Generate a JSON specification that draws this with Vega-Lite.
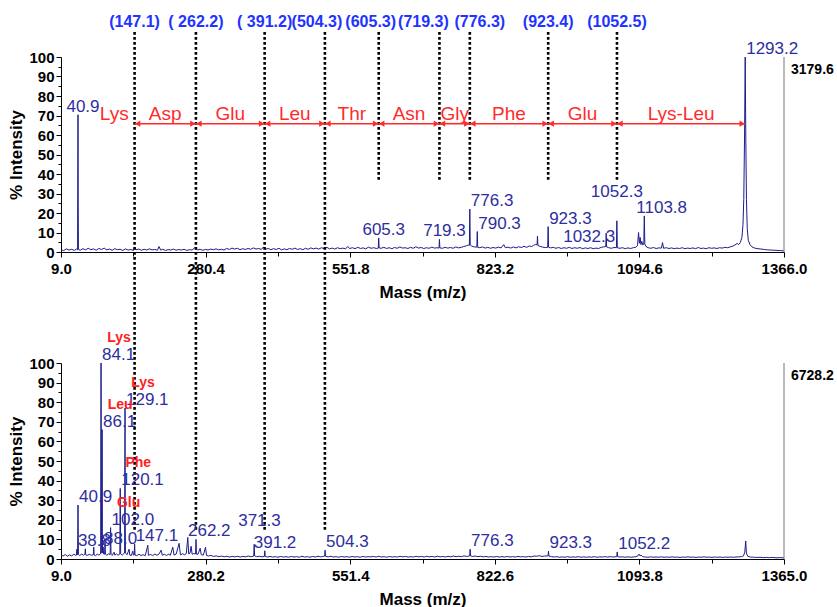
{
  "$schema": "https://vega.github.io/schema/vega-lite/v6.json",
  "background": "white",
  "padding": {"left": 7, "top": 13, "right": 0, "bottom": 0},
  "bounds": "flush",
  "spacing": 111,
  "config": {
    "view": {"stroke": null},
    "font": "Liberation Sans",
    "axis": {
      "grid": false,
      "domainColor": "black",
      "tickColor": "black",
      "labelColor": "black",
      "labelFont": "Liberation Sans",
      "labelFontWeight": "bold",
      "labelFontSize": 15,
      "labelOverlap": false,
      "labelFlush": false,
      "titleFont": "Liberation Sans",
      "titleFontWeight": "bold",
      "titleFontSize": 17,
      "titleColor": "black"
    }
  },
  "datasets": {
    "top": [
      {"mz":9,"i":1.2},{"mz":14,"i":0.7},{"mz":19,"i":1.6},{"mz":24,"i":1.0},{"mz":29,"i":1.4},{"mz":34,"i":0.8},{"mz":38,"i":1.5},
      {"mz":40.1,"i":1.1},{"mz":40.9,"i":70.4},{"mz":41.3,"i":25},{"mz":41.7,"i":1.3},
      {"mz":45,"i":0.9},{"mz":50,"i":1.7},{"mz":55,"i":1.1},{"mz":60,"i":1.9},{"mz":65,"i":1.2},{"mz":70,"i":1.6},{"mz":75,"i":0.9},{"mz":80,"i":1.8},{"mz":85,"i":1.3},{"mz":90,"i":2.0},{"mz":95,"i":1.1},{"mz":100,"i":1.5},{"mz":105,"i":0.9},{"mz":110,"i":1.7},{"mz":115,"i":1.2},{"mz":120,"i":1.4},{"mz":125,"i":0.8},{"mz":130,"i":1.6},{"mz":135,"i":1.0},{"mz":140,"i":1.3},{"mz":145,"i":0.8},{"mz":147.1,"i":2.6},{"mz":150,"i":1.1},{"mz":155,"i":1.5},{"mz":160,"i":0.9},{"mz":165,"i":1.4},{"mz":170,"i":1.0},{"mz":175,"i":1.6},{"mz":180,"i":1.1},{"mz":185,"i":1.3},{"mz":190,"i":0.9},{"mz":193,"i":2.8},{"mz":196,"i":1.0},{"mz":200,"i":1.4},{"mz":205,"i":0.8},{"mz":210,"i":1.2},{"mz":215,"i":1.0},{"mz":220,"i":1.5},{"mz":225,"i":0.9},{"mz":230,"i":1.3},{"mz":235,"i":1.0},{"mz":240,"i":1.4},{"mz":245,"i":0.8},{"mz":250,"i":1.2},{"mz":255,"i":1.0},{"mz":260,"i":2.2},{"mz":265,"i":1.1},{"mz":270,"i":1.4},{"mz":275,"i":0.9},{"mz":280,"i":1.3},{"mz":285,"i":1.0},{"mz":290,"i":1.5},{"mz":295,"i":1.2},{"mz":300,"i":1.6},{"mz":305,"i":1.1},{"mz":310,"i":1.4},{"mz":315,"i":1.0},{"mz":320,"i":1.8},{"mz":325,"i":1.3},{"mz":330,"i":2.0},{"mz":335,"i":1.5},{"mz":340,"i":1.9},{"mz":345,"i":1.2},{"mz":350,"i":1.7},{"mz":355,"i":1.3},{"mz":360,"i":1.8},{"mz":365,"i":1.4},{"mz":370,"i":2.1},{"mz":375,"i":1.5},{"mz":380,"i":1.8},{"mz":385,"i":1.3},{"mz":389,"i":2.6},{"mz":393,"i":1.4},{"mz":398,"i":1.8},{"mz":403,"i":1.2},{"mz":408,"i":1.7},{"mz":413,"i":1.3},{"mz":418,"i":1.9},{"mz":423,"i":1.1},{"mz":428,"i":1.6},{"mz":433,"i":1.2},{"mz":438,"i":1.8},{"mz":443,"i":1.4},{"mz":448,"i":2.0},{"mz":453,"i":1.3},{"mz":458,"i":1.7},{"mz":463,"i":1.2},{"mz":468,"i":1.9},{"mz":473,"i":1.4},{"mz":478,"i":2.1},{"mz":483,"i":1.6},{"mz":488,"i":2.0},{"mz":493,"i":1.5},{"mz":498,"i":2.2},{"mz":503,"i":1.7},{"mz":508,"i":2.4},{"mz":513,"i":1.6},{"mz":518,"i":2.0},{"mz":523,"i":1.5},{"mz":528,"i":2.2},{"mz":533,"i":1.7},{"mz":538,"i":2.0},{"mz":543,"i":1.6},{"mz":547,"i":2.8},{"mz":551,"i":1.8},{"mz":556,"i":2.2},{"mz":561,"i":1.7},{"mz":566,"i":2.4},{"mz":571,"i":1.8},{"mz":576,"i":2.1},{"mz":581,"i":1.6},{"mz":586,"i":2.5},{"mz":591,"i":1.9},{"mz":596,"i":2.2},{"mz":601,"i":1.8},
      {"mz":604.5,"i":2.0},{"mz":605.3,"i":7.2},{"mz":606.1,"i":2.1},
      {"mz":610,"i":1.9},{"mz":615,"i":2.4},{"mz":620,"i":1.8},{"mz":625,"i":2.2},{"mz":630,"i":1.7},{"mz":635,"i":2.3},{"mz":640,"i":1.9},{"mz":645,"i":2.6},{"mz":650,"i":2.0},{"mz":655,"i":2.2},{"mz":660,"i":1.8},{"mz":665,"i":2.4},{"mz":670,"i":1.9},{"mz":675,"i":2.7},{"mz":680,"i":2.0},{"mz":685,"i":2.3},{"mz":690,"i":1.8},{"mz":695,"i":2.2},{"mz":700,"i":1.9},{"mz":705,"i":2.5},{"mz":710,"i":2.0},{"mz":715,"i":2.2},
      {"mz":718.5,"i":2.0},{"mz":719.3,"i":6.5},{"mz":720.1,"i":2.1},
      {"mz":725,"i":1.9},{"mz":730,"i":2.4},{"mz":735,"i":2.0},{"mz":740,"i":2.3},{"mz":745,"i":1.9},{"mz":750,"i":2.6},{"mz":755,"i":2.1},{"mz":760,"i":2.4},{"mz":765,"i":2.8},{"mz":770,"i":3.2},{"mz":774,"i":3.6},
      {"mz":775.5,"i":3.4},{"mz":776.3,"i":22},{"mz":777.1,"i":3.6},
      {"mz":780,"i":3.0},{"mz":785,"i":2.6},
      {"mz":789.5,"i":2.5},{"mz":790.3,"i":10.5},{"mz":791.1,"i":2.4},
      {"mz":795,"i":2.2},{"mz":800,"i":2.6},{"mz":805,"i":2.0},{"mz":810,"i":2.4},{"mz":815,"i":1.9},{"mz":820,"i":2.3},{"mz":825,"i":2.0},{"mz":830,"i":2.5},{"mz":835,"i":2.1},{"mz":840,"i":3.8},{"mz":843,"i":2.2},{"mz":848,"i":2.5},{"mz":853,"i":2.0},{"mz":858,"i":2.6},{"mz":863,"i":2.1},{"mz":868,"i":2.7},{"mz":873,"i":2.3},{"mz":878,"i":2.9},{"mz":883,"i":2.4},{"mz":888,"i":3.1},{"mz":892,"i":2.8},{"mz":896,"i":3.4},{"mz":900,"i":3.9},
      {"mz":902.5,"i":3.6},{"mz":903.3,"i":8.2},{"mz":904.1,"i":3.4},
      {"mz":908,"i":2.9},{"mz":913,"i":2.5},{"mz":918,"i":2.3},
      {"mz":922.5,"i":2.4},{"mz":923.3,"i":13},{"mz":924.1,"i":2.5},
      {"mz":928,"i":2.1},{"mz":933,"i":2.4},{"mz":938,"i":1.9},{"mz":943,"i":2.3},{"mz":948,"i":1.8},{"mz":953,"i":2.2},{"mz":958,"i":1.9},{"mz":963,"i":2.4},{"mz":968,"i":1.8},{"mz":973,"i":2.2},{"mz":978,"i":1.9},{"mz":983,"i":2.3},{"mz":988,"i":1.7},{"mz":993,"i":2.1},{"mz":998,"i":1.8},{"mz":1003,"i":2.2},{"mz":1008,"i":1.7},{"mz":1013,"i":2.0},{"mz":1018,"i":1.8},{"mz":1023,"i":2.4},{"mz":1027,"i":2.6},
      {"mz":1031.5,"i":2.8},{"mz":1032.3,"i":9.7},{"mz":1033.1,"i":2.6},
      {"mz":1037,"i":2.2},{"mz":1042,"i":1.9},{"mz":1047,"i":2.3},
      {"mz":1051.5,"i":2.2},{"mz":1052.3,"i":16},{"mz":1053.1,"i":2.2},
      {"mz":1058,"i":1.9},{"mz":1063,"i":2.2},{"mz":1068,"i":1.7},{"mz":1073,"i":2.1},{"mz":1078,"i":1.8},{"mz":1083,"i":2.2},{"mz":1088,"i":2.5},{"mz":1091,"i":3.2},{"mz":1093,"i":10},{"mz":1094.5,"i":4.5},{"mz":1096,"i":7.5},{"mz":1097.5,"i":3.8},{"mz":1099,"i":5.5},{"mz":1101,"i":3.6},
      {"mz":1102.8,"i":4.0},{"mz":1103.8,"i":18.5},{"mz":1104.8,"i":4.0},
      {"mz":1107,"i":2.8},{"mz":1111,"i":2.2},{"mz":1116,"i":1.9},{"mz":1121,"i":2.3},{"mz":1126,"i":1.8},{"mz":1131,"i":2.1},{"mz":1136,"i":2.0},{"mz":1138,"i":4.8},{"mz":1140,"i":1.9},{"mz":1145,"i":2.2},{"mz":1150,"i":1.8},{"mz":1155,"i":2.1},{"mz":1160,"i":1.7},{"mz":1165,"i":2.0},{"mz":1170,"i":1.8},{"mz":1175,"i":2.2},{"mz":1180,"i":1.7},{"mz":1185,"i":2.0},{"mz":1190,"i":1.8},{"mz":1195,"i":2.1},{"mz":1200,"i":1.7},{"mz":1205,"i":2.3},{"mz":1210,"i":1.8},{"mz":1215,"i":2.0},{"mz":1220,"i":1.7},{"mz":1225,"i":2.2},{"mz":1230,"i":1.9},{"mz":1235,"i":2.1},{"mz":1240,"i":1.8},{"mz":1245,"i":2.2},{"mz":1250,"i":2.0},{"mz":1255,"i":2.4},{"mz":1260,"i":2.2},{"mz":1265,"i":2.6},{"mz":1270,"i":3.0},{"mz":1274,"i":3.6},{"mz":1278,"i":4.4},{"mz":1281,"i":3.8},{"mz":1284,"i":4.8},{"mz":1287,"i":7.5},{"mz":1289,"i":14},{"mz":1290.5,"i":27},{"mz":1292,"i":60},
      {"mz":1293.2,"i":100},
      {"mz":1294.2,"i":62},{"mz":1295.5,"i":27},{"mz":1297,"i":12},{"mz":1299,"i":6},{"mz":1302,"i":3.8},{"mz":1306,"i":2.6},{"mz":1311,"i":2.0},{"mz":1317,"i":1.7},{"mz":1323,"i":1.5},{"mz":1329,"i":1.3},{"mz":1335,"i":1.1},{"mz":1341,"i":1.0},{"mz":1347,"i":0.9},{"mz":1353,"i":0.8},{"mz":1359,"i":0.7},{"mz":1366,"i":0.6}
    ],
    "bottom": [
      {"mz":9,"i":2.0},{"mz":13,"i":1.5},{"mz":17,"i":2.3},{"mz":21,"i":1.4},{"mz":25,"i":2.1},{"mz":29,"i":1.6},{"mz":33,"i":2.4},{"mz":37,"i":1.8},
      {"mz":38.0,"i":2.0},{"mz":38.8,"i":5.0},{"mz":39.6,"i":2.2},
      {"mz":40.1,"i":2.4},{"mz":40.9,"i":27.5},{"mz":41.7,"i":2.3},
      {"mz":44,"i":1.8},{"mz":48,"i":2.5},{"mz":51,"i":1.9},{"mz":54,"i":2.6},{"mz":54.6,"i":5.2},{"mz":55.4,"i":2.1},{"mz":58,"i":1.8},{"mz":62,"i":2.4},{"mz":66,"i":1.9},{"mz":69.6,"i":2.2},{"mz":70.4,"i":6.0},{"mz":71.2,"i":2.0},{"mz":74,"i":1.7},{"mz":77,"i":2.5},{"mz":80,"i":2.0},
      {"mz":83.3,"i":2.6},{"mz":84.1,"i":100,"res":"Lys"},{"mz":84.7,"i":30},{"mz":85.3,"i":12},{"mz":85.6,"i":3.0},
      {"mz":86.1,"i":66,"res":"Leu"},{"mz":86.5,"i":14},{"mz":87.0,"i":3.2},
      {"mz":88.0,"i":6.2},{"mz":88.8,"i":2.6},{"mz":90.8,"i":2.4},{"mz":91.6,"i":10},{"mz":92.4,"i":2.5},{"mz":95,"i":1.9},{"mz":98,"i":2.6},
      {"mz":101.2,"i":2.3},{"mz":102.0,"i":16,"res":"Glu"},{"mz":102.8,"i":2.4},
      {"mz":105,"i":1.8},{"mz":108.5,"i":3.5},{"mz":110,"i":2.0},{"mz":113,"i":2.6},{"mz":116,"i":1.9},
      {"mz":119.3,"i":2.5},{"mz":120.1,"i":36,"res":"Phe"},{"mz":120.9,"i":2.6},
      {"mz":124,"i":2.0},{"mz":127,"i":2.8},
      {"mz":128.3,"i":3.0},{"mz":129.1,"i":77,"res":"Lys"},{"mz":129.5,"i":20},{"mz":129.9,"i":3.0},
      {"mz":133,"i":2.2},{"mz":136.7,"i":5.0},{"mz":138,"i":2.0},{"mz":141,"i":1.8},{"mz":143.6,"i":4.0},{"mz":145,"i":2.0},
      {"mz":146.3,"i":2.1},{"mz":147.1,"i":7.6},{"mz":147.9,"i":2.0},
      {"mz":151,"i":1.7},{"mz":155,"i":2.4},{"mz":159,"i":1.8},{"mz":163,"i":2.2},{"mz":167,"i":1.7},{"mz":171.8,"i":7.0},{"mz":173,"i":1.9},{"mz":177,"i":2.3},{"mz":181,"i":1.8},{"mz":185,"i":2.5},{"mz":189,"i":1.9},{"mz":193,"i":2.6},{"mz":196.8,"i":4.5},{"mz":199,"i":1.9},{"mz":203,"i":2.4},{"mz":207,"i":1.8},{"mz":211,"i":2.5},{"mz":214,"i":1.9},{"mz":218.7,"i":6.0},{"mz":221,"i":2.0},{"mz":225,"i":2.5},{"mz":230.5,"i":8.0},{"mz":233,"i":2.1},{"mz":237,"i":2.7},{"mz":241,"i":2.2},{"mz":244,"i":2.8},{"mz":246.8,"i":11},{"mz":248.5,"i":2.6},{"mz":251,"i":3.0},{"mz":253,"i":6.5},{"mz":255,"i":2.4},{"mz":258,"i":2.8},
      {"mz":261.4,"i":2.6},{"mz":262.2,"i":10},{"mz":263,"i":2.5},
      {"mz":266,"i":2.4},{"mz":270,"i":5.5},{"mz":272,"i":2.2},{"mz":276,"i":2.0},{"mz":280,"i":6.0},{"mz":282,"i":1.8},{"mz":286,"i":1.5},{"mz":290,"i":1.9},{"mz":295,"i":1.3},{"mz":300,"i":1.6},{"mz":305,"i":1.2},{"mz":310,"i":1.5},{"mz":315,"i":1.1},{"mz":320,"i":1.4},{"mz":325,"i":1.0},{"mz":330,"i":1.3},{"mz":335,"i":1.1},{"mz":340,"i":1.4},{"mz":345,"i":1.0},{"mz":350,"i":1.3},{"mz":355,"i":1.1},{"mz":360,"i":1.5},{"mz":365,"i":1.2},
      {"mz":370.5,"i":1.5},{"mz":371.3,"i":7.5},{"mz":372.1,"i":1.6},
      {"mz":376,"i":1.2},{"mz":381,"i":1.4},{"mz":386,"i":1.1},
      {"mz":390.4,"i":1.3},{"mz":391.2,"i":4.2},{"mz":392,"i":1.3},
      {"mz":396,"i":1.0},{"mz":401,"i":1.3},{"mz":406,"i":1.0},{"mz":411,"i":1.2},{"mz":416,"i":0.9},{"mz":421,"i":1.3},{"mz":426,"i":1.0},{"mz":431,"i":1.2},{"mz":436,"i":0.9},{"mz":441,"i":1.3},{"mz":446,"i":1.0},{"mz":451,"i":1.2},{"mz":456,"i":0.9},{"mz":461,"i":1.4},{"mz":466,"i":1.0},{"mz":471,"i":1.2},{"mz":476,"i":0.9},{"mz":481,"i":1.3},{"mz":486,"i":1.0},{"mz":491,"i":1.4},{"mz":496,"i":1.1},{"mz":500,"i":1.3},
      {"mz":503.5,"i":1.5},{"mz":504.3,"i":4.5},{"mz":505.1,"i":1.4},
      {"mz":510,"i":1.1},{"mz":515,"i":1.4},{"mz":520,"i":1.0},{"mz":525,"i":1.2},{"mz":530,"i":0.9},{"mz":535,"i":1.3},{"mz":540,"i":1.0},{"mz":545,"i":1.2},{"mz":550,"i":0.9},{"mz":555,"i":1.3},{"mz":560,"i":1.0},{"mz":565,"i":1.2},{"mz":570,"i":0.9},{"mz":575,"i":1.3},{"mz":580,"i":1.0},{"mz":585,"i":1.2},{"mz":590,"i":1.1},{"mz":595,"i":1.3},{"mz":600,"i":1.0},{"mz":605,"i":1.4},{"mz":610,"i":1.0},{"mz":615,"i":1.2},{"mz":620,"i":0.9},{"mz":625,"i":1.3},{"mz":630,"i":1.0},{"mz":635,"i":1.2},{"mz":640,"i":1.0},{"mz":645,"i":1.4},{"mz":650,"i":1.1},{"mz":655,"i":1.3},{"mz":660,"i":1.0},{"mz":665,"i":1.2},{"mz":670,"i":1.0},{"mz":675,"i":1.4},{"mz":680,"i":1.1},{"mz":685,"i":1.3},{"mz":690,"i":1.0},{"mz":695,"i":1.4},{"mz":700,"i":1.1},{"mz":705,"i":1.3},{"mz":710,"i":1.0},{"mz":715,"i":1.4},{"mz":720,"i":1.1},{"mz":725,"i":1.3},{"mz":730,"i":1.0},{"mz":735,"i":1.4},{"mz":740,"i":1.1},{"mz":745,"i":1.5},{"mz":750,"i":1.2},{"mz":755,"i":1.4},{"mz":760,"i":1.2},{"mz":765,"i":1.6},{"mz":770,"i":1.3},
      {"mz":775.5,"i":1.6},{"mz":776.3,"i":5.0},{"mz":777.1,"i":1.6},
      {"mz":781,"i":1.3},{"mz":786,"i":1.5},{"mz":791,"i":1.2},{"mz":796,"i":1.4},{"mz":801,"i":1.1},{"mz":806,"i":1.3},{"mz":811,"i":1.0},{"mz":816,"i":1.2},{"mz":821,"i":1.0},{"mz":826,"i":1.3},{"mz":831,"i":1.0},{"mz":836,"i":1.2},{"mz":841,"i":1.0},{"mz":846,"i":1.3},{"mz":851,"i":1.0},{"mz":856,"i":1.2},{"mz":861,"i":1.0},{"mz":866,"i":1.3},{"mz":871,"i":1.1},{"mz":876,"i":1.2},{"mz":881,"i":1.0},{"mz":886,"i":1.3},{"mz":891,"i":1.1},{"mz":896,"i":1.5},{"mz":901,"i":1.4},{"mz":906,"i":1.7},{"mz":911,"i":1.3},{"mz":916,"i":1.5},
      {"mz":922.5,"i":1.6},{"mz":923.3,"i":4.0},{"mz":924.1,"i":1.5},
      {"mz":929,"i":1.2},{"mz":934,"i":1.0},{"mz":939,"i":1.2},{"mz":944,"i":0.9},{"mz":949,"i":1.1},{"mz":954,"i":0.9},{"mz":959,"i":1.2},{"mz":964,"i":0.9},{"mz":969,"i":1.1},{"mz":974,"i":0.9},{"mz":979,"i":1.2},{"mz":984,"i":0.9},{"mz":989,"i":1.1},{"mz":994,"i":0.9},{"mz":999,"i":1.1},{"mz":1004,"i":0.9},{"mz":1009,"i":1.2},{"mz":1014,"i":0.9},{"mz":1019,"i":1.1},{"mz":1024,"i":1.0},{"mz":1029,"i":1.2},{"mz":1034,"i":1.0},{"mz":1039,"i":1.2},{"mz":1044,"i":1.0},{"mz":1048,"i":1.1},
      {"mz":1051.4,"i":1.2},{"mz":1052.2,"i":3.6},{"mz":1053,"i":1.2},
      {"mz":1057,"i":1.0},{"mz":1062,"i":1.1},{"mz":1067,"i":0.9},{"mz":1072,"i":1.1},{"mz":1077,"i":0.9},{"mz":1082,"i":1.0},{"mz":1087,"i":1.2},{"mz":1091,"i":1.6},{"mz":1093,"i":2.5},{"mz":1095,"i":1.6},{"mz":1097,"i":2.0},{"mz":1100,"i":1.2},{"mz":1105,"i":1.0},{"mz":1110,"i":0.9},{"mz":1115,"i":1.1},{"mz":1120,"i":0.9},{"mz":1125,"i":1.0},{"mz":1130,"i":0.9},{"mz":1135,"i":1.1},{"mz":1140,"i":0.9},{"mz":1145,"i":1.0},{"mz":1150,"i":0.9},{"mz":1155,"i":1.1},{"mz":1160,"i":0.9},{"mz":1165,"i":1.0},{"mz":1170,"i":0.8},{"mz":1175,"i":1.0},{"mz":1180,"i":0.9},{"mz":1185,"i":1.1},{"mz":1190,"i":0.9},{"mz":1195,"i":1.0},{"mz":1200,"i":0.8},{"mz":1205,"i":1.0},{"mz":1210,"i":0.9},{"mz":1215,"i":1.1},{"mz":1220,"i":0.9},{"mz":1225,"i":1.0},{"mz":1230,"i":0.8},{"mz":1235,"i":1.0},{"mz":1240,"i":0.9},{"mz":1245,"i":1.0},{"mz":1250,"i":0.8},{"mz":1255,"i":1.0},{"mz":1260,"i":0.9},{"mz":1265,"i":1.0},{"mz":1270,"i":0.9},{"mz":1275,"i":1.0},{"mz":1280,"i":1.1},{"mz":1285,"i":1.2},{"mz":1289,"i":1.6},{"mz":1291.5,"i":3.5},{"mz":1293.2,"i":9.2},{"mz":1294.5,"i":3.0},{"mz":1297,"i":1.4},{"mz":1302,"i":1.0},{"mz":1308,"i":0.9},{"mz":1314,"i":0.8},{"mz":1320,"i":0.9},{"mz":1326,"i":0.7},{"mz":1332,"i":0.8},{"mz":1338,"i":0.7},{"mz":1344,"i":0.8},{"mz":1350,"i":0.6},{"mz":1356,"i":0.7},{"mz":1365,"i":0.6}
    ],
    "cuts": [
      {"mz":147.1,"label":"(147.1)"},
      {"mz":262.2,"label":"( 262.2)"},
      {"mz":391.2,"label":"( 391.2)"},
      {"mz":504.3,"label":"(504.3)"},
      {"mz":605.3,"label":"(605.3)"},
      {"mz":719.3,"label":"(719.3)"},
      {"mz":776.3,"label":"(776.3)"},
      {"mz":923.4,"label":"(923.4)"},
      {"mz":1052.5,"label":"(1052.5)"}
    ],
    "steps": [
      {"from":40.9,"to":147.1,"res":"Lys"},
      {"from":147.1,"to":262.2,"res":"Asp"},
      {"from":262.2,"to":391.2,"res":"Glu"},
      {"from":391.2,"to":504.3,"res":"Leu"},
      {"from":504.3,"to":605.3,"res":"Thr"},
      {"from":605.3,"to":719.3,"res":"Asn"},
      {"from":719.3,"to":776.3,"res":"Gly"},
      {"from":776.3,"to":923.4,"res":"Phe"},
      {"from":923.4,"to":1052.5,"res":"Glu"},
      {"from":1052.5,"to":1293.2,"res":"Lys-Leu"}
    ],
    "topCount": [{"mz":1366,"i":100,"count":"3179.6"}],
    "bottomCount": [{"mz":1365,"i":100,"count":"6728.2"}]
  },
  "vconcat": [
    {
      "width": 723,
      "height": 195,
      "resolve": {"axis": {"x": "independent", "y": "independent"}},
      "layer": [
        {
          "data": {"name": "top"},
          "mark": {"type": "line", "color": "#1c1c8c", "strokeWidth": 1, "clip": true},
          "encoding": {
            "x": {
              "field": "mz", "type": "quantitative",
              "scale": {"domain": [9, 1366], "nice": false, "zero": false},
              "axis": {
                "title": "Mass (m/z)",
                "values": [9, 144.7, 280.4, 416.1, 551.8, 687.5, 823.2, 958.9, 1094.6, 1230.3, 1366],
                "labelExpr": "indexof([9, 280.4, 551.8, 823.2, 1094.6, 1366], datum.value) >= 0 ? format(datum.value, '.1f') : ''",
                "tickSize": {"condition": {"test": "indexof([9, 280.4, 551.8, 823.2, 1094.6, 1366], datum.value) >= 0", "value": 5}, "value": 4},
                "labelOverlap": false,
                "labelDx": 4,
                "labelPadding": 4,
                "titlePadding": 8
              }
            },
            "y": {
              "field": "i", "type": "quantitative",
              "scale": {"domain": [0, 100], "nice": false},
              "axis": {
                "title": "% Intensity",
                "values": [0, 5, 10, 15, 20, 25, 30, 35, 40, 45, 50, 55, 60, 65, 70, 75, 80, 85, 90, 95, 100],
                "labelExpr": "datum.value % 10 === 0 ? format(datum.value, 'd') : ''",
                "tickSize": {"condition": {"test": "datum.value % 10 === 0", "value": 5}, "value": 3},
                "labelOverlap": false,
                "labelBaseline": "middle",
                "labelPadding": 2,
                "titlePadding": 3
              }
            }
          }
        },
        {
          "data": {"name": "topCount"},
          "mark": {"type": "rule", "color": "#8c8c8c", "strokeWidth": 1.2},
          "encoding": {
            "x": {"field": "mz", "type": "quantitative", "axis": null},
            "y": {"field": "i", "type": "quantitative", "axis": null},
            "y2": {"datum": 0}
          }
        },
        {
          "data": {"name": "cuts"},
          "transform": [{"filter": "datum.mz <= 504.3"}],
          "mark": {"type": "rule", "color": "black", "strokeWidth": 2.6, "strokeDash": [2.6, 2.4], "clip": false},
          "encoding": {
            "x": {"field": "mz", "type": "quantitative", "axis": null},
            "y": {"datum": 112.8, "type": "quantitative", "axis": null},
            "y2": {"datum": -142.6}
          }
        },
        {
          "data": {"name": "cuts"},
          "transform": [{"filter": "datum.mz > 504.3"}],
          "mark": {"type": "rule", "color": "black", "strokeWidth": 2.6, "strokeDash": [2.6, 2.4], "clip": false},
          "encoding": {
            "x": {"field": "mz", "type": "quantitative", "axis": null},
            "y": {"datum": 112.8, "type": "quantitative", "axis": null},
            "y2": {"datum": 36.4}
          }
        },
        {
          "data": {"name": "cuts"},
          "transform": [{"filter": {"field": "mz", "oneOf": [147.1, 262.2, 391.2, 923.4, 1052.5]}}],
          "mark": {"type": "text", "color": "#2233ff", "fontSize": 16, "fontWeight": "bold", "align": "center", "baseline": "alphabetic", "clip": false},
          "encoding": {
            "x": {"field": "mz", "type": "quantitative", "axis": null},
            "y": {"datum": 115.4, "type": "quantitative", "axis": null},
            "text": {"field": "label", "type": "nominal"}
          }
        },
        {
          "data": {"name": "cuts"},
          "transform": [{"filter": {"field": "mz", "oneOf": [504.3, 605.3]}}],
          "mark": {"type": "text", "color": "#2233ff", "fontSize": 16, "fontWeight": "bold", "align": "center", "baseline": "alphabetic", "dx": -8, "clip": false},
          "encoding": {
            "x": {"field": "mz", "type": "quantitative", "axis": null},
            "y": {"datum": 115.4, "type": "quantitative", "axis": null},
            "text": {"field": "label", "type": "nominal"}
          }
        },
        {
          "data": {"name": "cuts"},
          "transform": [{"filter": {"field": "mz", "oneOf": [719.3]}}],
          "mark": {"type": "text", "color": "#2233ff", "fontSize": 16, "fontWeight": "bold", "align": "center", "baseline": "alphabetic", "dx": -16, "clip": false},
          "encoding": {
            "x": {"field": "mz", "type": "quantitative", "axis": null},
            "y": {"datum": 115.4, "type": "quantitative", "axis": null},
            "text": {"field": "label", "type": "nominal"}
          }
        },
        {
          "data": {"name": "cuts"},
          "transform": [{"filter": {"field": "mz", "oneOf": [776.3]}}],
          "mark": {"type": "text", "color": "#2233ff", "fontSize": 16, "fontWeight": "bold", "align": "center", "baseline": "alphabetic", "dx": 10, "clip": false},
          "encoding": {
            "x": {"field": "mz", "type": "quantitative", "axis": null},
            "y": {"datum": 115.4, "type": "quantitative", "axis": null},
            "text": {"field": "label", "type": "nominal"}
          }
        },
        {
          "data": {"name": "steps"},
          "transform": [{"filter": "datum.from >= 147"}],
          "mark": {"type": "rule", "color": "#ff2b2b", "strokeWidth": 1.6},
          "encoding": {
            "x": {"field": "from", "type": "quantitative", "axis": null},
            "x2": {"field": "to"},
            "y": {"datum": 65.8, "type": "quantitative", "axis": null}
          }
        },
        {
          "data": {"name": "steps"},
          "transform": [{"filter": "datum.from >= 147"}],
          "mark": {"type": "point", "shape": "triangle-left", "filled": true, "color": "#ff2b2b", "opacity": 1, "size": 40, "xOffset": 3},
          "encoding": {
            "x": {"field": "from", "type": "quantitative", "axis": null},
            "y": {"datum": 65.8, "type": "quantitative", "axis": null}
          }
        },
        {
          "data": {"name": "steps"},
          "transform": [{"filter": "datum.from >= 147"}],
          "mark": {"type": "point", "shape": "triangle-right", "filled": true, "color": "#ff2b2b", "opacity": 1, "size": 40, "xOffset": -3},
          "encoding": {
            "x": {"field": "to", "type": "quantitative", "axis": null},
            "y": {"datum": 65.8, "type": "quantitative", "axis": null}
          }
        },
        {
          "data": {"name": "steps"},
          "transform": [{"filter": "datum.from >= 147"}, {"fold": ["from", "to"], "as": ["end", "pos"]}],
          "mark": {"type": "text", "color": "#ff2b2b", "fontSize": 19, "align": "center", "baseline": "alphabetic", "dy": -4},
          "encoding": {
            "x": {"aggregate": "mean", "field": "pos", "type": "quantitative", "axis": null},
            "y": {"datum": 65.8, "type": "quantitative", "axis": null},
            "text": {"field": "res", "type": "nominal"},
            "detail": {"field": "from", "type": "nominal"}
          }
        },
        {
          "data": {"name": "steps"},
          "transform": [{"filter": "datum.from < 147"}, {"fold": ["from", "to"], "as": ["end", "pos"]}],
          "mark": {"type": "text", "color": "#ff2b2b", "fontSize": 19, "align": "center", "baseline": "alphabetic", "dx": 8, "dy": -4},
          "encoding": {
            "x": {"aggregate": "mean", "field": "pos", "type": "quantitative", "axis": null},
            "y": {"datum": 65.8, "type": "quantitative", "axis": null},
            "text": {"field": "res", "type": "nominal"},
            "detail": {"field": "from", "type": "nominal"}
          }
        },
        {
          "data": {"name": "top"},
          "transform": [{"filter": {"field": "mz", "oneOf": [40.9, 605.3, 719.3]}}],
          "mark": {"type": "text", "color": "#2e2e9e", "fontSize": 17, "align": "center", "baseline": "alphabetic", "dx": 5, "dy": -3},
          "encoding": {
            "x": {"field": "mz", "type": "quantitative", "axis": null},
            "y": {"field": "i", "type": "quantitative", "axis": null},
            "text": {"field": "mz", "type": "quantitative", "format": ".1f"}
          }
        },
        {
          "data": {"name": "top"},
          "transform": [{"filter": {"field": "mz", "oneOf": [776.3, 790.3, 923.3, 1293.2]}}],
          "mark": {"type": "text", "color": "#2e2e9e", "fontSize": 17, "align": "left", "baseline": "alphabetic", "dx": 1, "dy": -3},
          "encoding": {
            "x": {"field": "mz", "type": "quantitative", "axis": null},
            "y": {"field": "i", "type": "quantitative", "axis": null},
            "text": {"field": "mz", "type": "quantitative", "format": ".1f"}
          }
        },
        {
          "data": {"name": "top"},
          "transform": [{"filter": {"field": "mz", "oneOf": [1103.8]}}],
          "mark": {"type": "text", "color": "#2e2e9e", "fontSize": 17, "align": "left", "baseline": "alphabetic", "dx": -8, "dy": -3},
          "encoding": {
            "x": {"field": "mz", "type": "quantitative", "axis": null},
            "y": {"field": "i", "type": "quantitative", "axis": null},
            "text": {"field": "mz", "type": "quantitative", "format": ".1f"}
          }
        },
        {
          "data": {"name": "top"},
          "transform": [{"filter": {"field": "mz", "oneOf": [1052.3]}}],
          "mark": {"type": "text", "color": "#2e2e9e", "fontSize": 17, "align": "center", "baseline": "alphabetic", "dx": 0, "dy": -24},
          "encoding": {
            "x": {"field": "mz", "type": "quantitative", "axis": null},
            "y": {"field": "i", "type": "quantitative", "axis": null},
            "text": {"field": "mz", "type": "quantitative", "format": ".1f"}
          }
        },
        {
          "data": {"name": "top"},
          "transform": [{"filter": {"field": "mz", "oneOf": [1032.3]}}],
          "mark": {"type": "text", "color": "#2e2e9e", "fontSize": 17, "align": "right", "baseline": "alphabetic", "dx": 9, "dy": 9},
          "encoding": {
            "x": {"field": "mz", "type": "quantitative", "axis": null},
            "y": {"field": "i", "type": "quantitative", "axis": null},
            "text": {"field": "mz", "type": "quantitative", "format": ".1f"}
          }
        },
        {
          "data": {"name": "topCount"},
          "mark": {"type": "text", "fontSize": 14, "fontWeight": "bold", "color": "black", "align": "left", "baseline": "alphabetic", "dx": 7, "dy": 17, "clip": false},
          "encoding": {
            "x": {"field": "mz", "type": "quantitative", "axis": null},
            "y": {"field": "i", "type": "quantitative", "axis": null},
            "text": {"field": "count", "type": "nominal"}
          }
        }
      ]
    },
    {
      "width": 723,
      "height": 196,
      "resolve": {"axis": {"x": "independent", "y": "independent"}},
      "layer": [
        {
          "data": {"name": "bottom"},
          "mark": {"type": "line", "color": "#1c1c8c", "strokeWidth": 1, "clip": true},
          "encoding": {
            "x": {
              "field": "mz", "type": "quantitative",
              "scale": {"domain": [9, 1365], "nice": false, "zero": false},
              "axis": {
                "title": "Mass (m/z)",
                "values": [9, 144.6, 280.2, 415.8, 551.4, 687, 822.6, 958.2, 1093.8, 1229.4, 1365],
                "labelExpr": "indexof([9, 280.2, 551.4, 822.6, 1093.8, 1365], datum.value) >= 0 ? format(datum.value, '.1f') : ''",
                "tickSize": {"condition": {"test": "indexof([9, 280.2, 551.4, 822.6, 1093.8, 1365], datum.value) >= 0", "value": 5}, "value": 4},
                "labelOverlap": false,
                "labelDx": 4,
                "labelPadding": 4,
                "titlePadding": 8
              }
            },
            "y": {
              "field": "i", "type": "quantitative",
              "scale": {"domain": [0, 100], "nice": false},
              "axis": {
                "title": "% Intensity",
                "values": [0, 5, 10, 15, 20, 25, 30, 35, 40, 45, 50, 55, 60, 65, 70, 75, 80, 85, 90, 95, 100],
                "labelExpr": "datum.value % 10 === 0 ? format(datum.value, 'd') : ''",
                "tickSize": {"condition": {"test": "datum.value % 10 === 0", "value": 5}, "value": 3},
                "labelOverlap": false,
                "labelBaseline": "middle",
                "labelPadding": 2,
                "titlePadding": 3
              }
            }
          }
        },
        {
          "data": {"name": "bottomCount"},
          "mark": {"type": "rule", "color": "#8c8c8c", "strokeWidth": 1.2},
          "encoding": {
            "x": {"field": "mz", "type": "quantitative", "axis": null},
            "y": {"field": "i", "type": "quantitative", "axis": null},
            "y2": {"datum": 0}
          }
        },
        {
          "data": {"name": "bottom"},
          "transform": [{"filter": {"field": "mz", "oneOf": [38.8, 40.9, 84.1, 86.1, 88.0, 102.0, 120.1, 129.1, 147.1, 504.3, 776.3, 923.3, 1052.2]}}],
          "mark": {"type": "text", "color": "#2e2e9e", "fontSize": 17, "align": "left", "baseline": "alphabetic", "dx": 1, "dy": -3},
          "encoding": {
            "x": {"field": "mz", "type": "quantitative", "axis": null},
            "y": {"field": "i", "type": "quantitative", "axis": null},
            "text": {"field": "mz", "type": "quantitative", "format": ".1f"}
          }
        },
        {
          "data": {"name": "bottom"},
          "transform": [{"filter": {"field": "mz", "oneOf": [262.2]}}],
          "mark": {"type": "text", "color": "#2e2e9e", "fontSize": 17, "align": "left", "baseline": "alphabetic", "dx": -8, "dy": -3},
          "encoding": {
            "x": {"field": "mz", "type": "quantitative", "axis": null},
            "y": {"field": "i", "type": "quantitative", "axis": null},
            "text": {"field": "mz", "type": "quantitative", "format": ".1f"}
          }
        },
        {
          "data": {"name": "bottom"},
          "transform": [{"filter": {"field": "mz", "oneOf": [371.3]}}],
          "mark": {"type": "text", "color": "#2e2e9e", "fontSize": 17, "align": "left", "baseline": "alphabetic", "dx": -16, "dy": -18},
          "encoding": {
            "x": {"field": "mz", "type": "quantitative", "axis": null},
            "y": {"field": "i", "type": "quantitative", "axis": null},
            "text": {"field": "mz", "type": "quantitative", "format": ".1f"}
          }
        },
        {
          "data": {"name": "bottom"},
          "transform": [{"filter": {"field": "mz", "oneOf": [391.2]}}],
          "mark": {"type": "text", "color": "#2e2e9e", "fontSize": 17, "align": "left", "baseline": "alphabetic", "dx": -11, "dy": -3},
          "encoding": {
            "x": {"field": "mz", "type": "quantitative", "axis": null},
            "y": {"field": "i", "type": "quantitative", "axis": null},
            "text": {"field": "mz", "type": "quantitative", "format": ".1f"}
          }
        },
        {
          "data": {"name": "bottom"},
          "transform": [{"filter": "isValid(datum.res)"}],
          "mark": {"type": "text", "color": "#ff2020", "fontSize": 14, "fontWeight": "bold", "align": "center", "baseline": "alphabetic", "dx": 18, "dy": -21},
          "encoding": {
            "x": {"field": "mz", "type": "quantitative", "axis": null},
            "y": {"field": "i", "type": "quantitative", "axis": null},
            "text": {"field": "res", "type": "nominal"}
          }
        },
        {
          "data": {"name": "bottomCount"},
          "mark": {"type": "text", "fontSize": 14, "fontWeight": "bold", "color": "black", "align": "left", "baseline": "alphabetic", "dx": 7, "dy": 17, "clip": false},
          "encoding": {
            "x": {"field": "mz", "type": "quantitative", "axis": null},
            "y": {"field": "i", "type": "quantitative", "axis": null},
            "text": {"field": "count", "type": "nominal"}
          }
        }
      ]
    }
  ]
}
